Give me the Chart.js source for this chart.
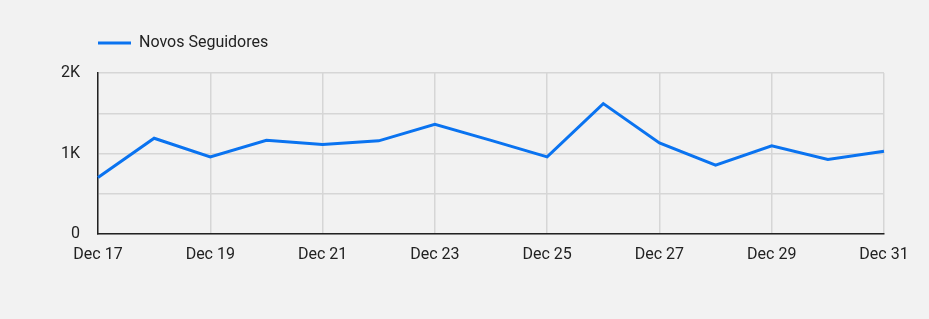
<!DOCTYPE html>
<html>
<head>
<meta charset="utf-8">
<script src="https://cdn.jsdelivr.net/npm/chart.js@4.4.1/dist/chart.umd.min.js"></script>
<style>
  html, body { margin: 0; padding: 0; background: #f2f2f2; }
  #wrap { width: 929px; height: 319px; }
</style>
</head>
<body>
<div id="wrap"><canvas id="myChart" width="929" height="319"></canvas></div>
<script>
// dados do gráfico
const days = ["Dec 17", "Dec 18", "Dec 19", "Dec 20", "Dec 21", "Dec 22", "Dec 23", "Dec 24",
  "Dec 25", "Dec 26", "Dec 27", "Dec 28", "Dec 29", "Dec 30", "Dec 31"];
const novosSeguidores = [703, 1190, 958, 1165, 1112, 1157, 1364, 1163, 958, 1620, 1132, 856, 1095, 926, 1029];
const yTickLabels = { 0: "0", 1000: "1K", 2000: "2K" };

const lineColor = "#0a73f0";
Chart.defaults.font.family = "Roboto";
Chart.defaults.font.size = 16;
Chart.defaults.color = "#222";

// espaço extra abaixo da legenda
const legendMargin = {
  id: "legendMargin",
  beforeInit: function (chart) {
    const fit = chart.legend.fit;
    chart.legend.fit = function () {
      fit.bind(chart.legend)();
      this.height += 12;
    };
  },
};

var ctx = document.getElementById("myChart").getContext("2d");
var myChart = new Chart(ctx, {
  type: "line",
  data: {
    labels: days,
    datasets: [
      {
        label: "Novos Seguidores",
        data: novosSeguidores,
        borderColor: lineColor,
        backgroundColor: lineColor,
        borderWidth: 3,
        pointRadius: 0,
        tension: 0,
        fill: false,
      },
    ],
  },
  plugins: [legendMargin],
  options: {
    responsive: false,
    animation: false,
    layout: { padding: { top: 35, right: 45, bottom: 55, left: 0 } },
    plugins: {
      tooltip: { enabled: false },
      legend: {
        position: "top",
        align: "start",
        fullSize: false,
        labels: {
          padding: 0,
          boxWidth: 33,
          boxHeight: 3,
          generateLabels: function (chart) {
            return Chart.defaults.plugins.legend.labels.generateLabels(chart).map(function (l) {
              l.lineWidth = 0;
              l.fillStyle = lineColor;
              return l;
            });
          },
        },
      },
    },
    scales: {
      x: {
        grid: { color: "#d6d6d6", lineWidth: 1.5, drawTicks: false },
        border: { color: "#222", width: 1.5 },
        ticks: {
          autoSkip: false,
          maxRotation: 0,
          padding: 11,
          callback: function (value, index) {
            return index % 2 === 0 ? days[index] : null;
          },
        },
        afterFit: function (scale) { scale.height = 30; },
      },
      y: {
        min: 0,
        max: 2000,
        grid: { color: "#d6d6d6", lineWidth: 1.5, drawTicks: false },
        border: { color: "#222", width: 1.5 },
        ticks: {
          stepSize: 500,
          padding: 18,
          callback: function (value) {
            return yTickLabels[value] !== undefined ? yTickLabels[value] : "";
          },
        },
        afterFit: function (scale) { scale.width = 98; },
      },
    },
  },
});
</script>
</body>
</html>
